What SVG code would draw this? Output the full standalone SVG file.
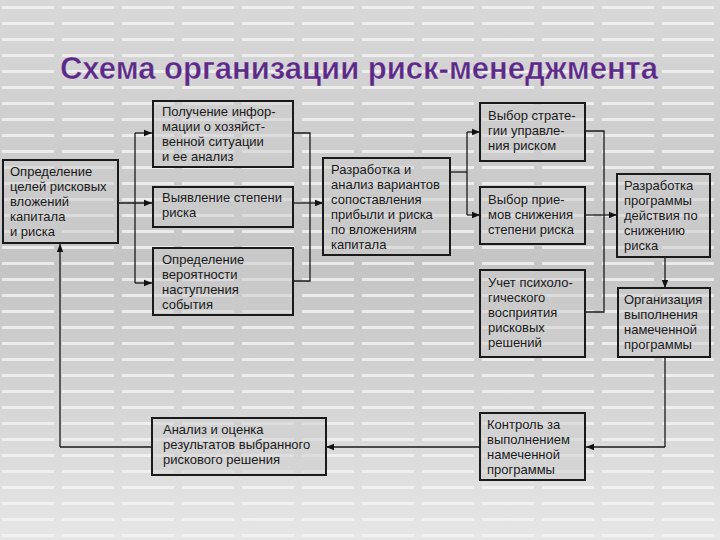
<svg xmlns="http://www.w3.org/2000/svg" width="720" height="540" viewBox="0 0 720 540">
<defs>
<linearGradient id="bg" x1="0" y1="0" x2="0" y2="1"><stop offset="0" stop-color="#d8d8d8"/><stop offset="0.5" stop-color="#c4c4c4"/><stop offset="1" stop-color="#e6e6e6"/></linearGradient>
<pattern id="stripes" width="60" height="16" patternUnits="userSpaceOnUse"><rect x="2" y="6" width="52" height="3" fill="#f4f4f4" opacity="0.8"/></pattern>
<marker id="ah" viewBox="0 0 10 10" refX="10" refY="5" markerWidth="8" markerHeight="8" markerUnits="userSpaceOnUse" orient="auto"><path d="M0,1 L10,5 L0,9 z" fill="#111"/></marker>
</defs>
<style>
.box{fill:#cbcbcb;fill-opacity:0.5;stroke:#1a1a1a;stroke-width:2}
.t{font-family:"Liberation Sans",Arial,sans-serif;font-size:13px;fill:#1a1a1a}
.c{fill:none;stroke:#1a1a1a;stroke-width:1.3}
.a{marker-end:url(#ah)}
</style>
<rect width="720" height="540" fill="url(#bg)"/>
<rect width="720" height="540" fill="url(#stripes)"/>
<text x="359" y="79" text-anchor="middle" font-family="Liberation Sans,Arial,sans-serif" font-size="31" font-weight="bold" fill="#5b2a86" stroke="#ffffff" stroke-opacity="0.5" stroke-width="0.6">Схема организации риск-менеджмента</text>
<g id="connectors">
<path class="c a" d="M118,203 H152"/>
<path class="c" d="M135,133 V283"/>
<path class="c a" d="M135,133 H152"/>
<path class="c a" d="M135,283 H152"/>
<path class="c" d="M293,133 H310 V281 H293"/>
<path class="c a" d="M293,203 H323"/>
<path class="c" d="M450,172 H467"/>
<path class="c" d="M467,132 V215"/>
<path class="c a" d="M467,132 H480"/>
<path class="c a" d="M467,215 H480"/>
<path class="c" d="M585,131 H604 V312 H585"/>
<path class="c a" d="M585,215 H617"/>
<path class="c a" d="M665,257 V288"/>
<path class="c" d="M665,357 V447"/>
<path class="c a" d="M665,447 H586"/>
<path class="c a" d="M480,447 H326"/>
<path class="c" d="M152,447 H60"/>
<path class="c a" d="M60,447 V244"/>
</g>
<g id="n1"><rect class="box" x="3" y="160" width="115" height="83"/><text class="t" x="10" y="176">Определение</text><text class="t" x="10" y="191">целей рисковых</text><text class="t" x="10" y="206">вложений</text><text class="t" x="10" y="221">капитала</text><text class="t" x="10" y="236">и риска</text></g>
<g id="n2"><rect class="box" x="153" y="101" width="140" height="66"/><text class="t" x="162" y="116">Получение инфор-</text><text class="t" x="162" y="131">мации о хозяйст-</text><text class="t" x="162" y="146">венной ситуации</text><text class="t" x="162" y="161">и ее анализ</text></g>
<g id="n3"><rect class="box" x="153" y="187" width="140" height="40"/><text class="t" x="162" y="202">Выявление степени</text><text class="t" x="162" y="217">риска</text></g>
<g id="n4"><rect class="box" x="153" y="248" width="140" height="67"/><text class="t" x="162" y="264">Определение</text><text class="t" x="162" y="279">вероятности</text><text class="t" x="162" y="294">наступления</text><text class="t" x="162" y="309">события</text></g>
<g id="n5"><rect class="box" x="323" y="158" width="127" height="97"/><text class="t" x="331" y="174">Разработка и</text><text class="t" x="331" y="189">анализ вариантов</text><text class="t" x="331" y="204">сопоставления</text><text class="t" x="331" y="219">прибыли и риска</text><text class="t" x="331" y="234">по вложениям</text><text class="t" x="331" y="249">капитала</text></g>
<g id="n6"><rect class="box" x="480" y="103" width="105" height="58"/><text class="t" x="488" y="120">Выбор страте-</text><text class="t" x="488" y="135">гии управле-</text><text class="t" x="488" y="150">ния риском</text></g>
<g id="n7"><rect class="box" x="480" y="187" width="105" height="57"/><text class="t" x="488" y="204">Выбор прие-</text><text class="t" x="488" y="219">мов снижения</text><text class="t" x="488" y="234">степени риска</text></g>
<g id="n8"><rect class="box" x="480" y="270" width="105" height="87"/><text class="t" x="488" y="287">Учет психоло-</text><text class="t" x="488" y="302">гического</text><text class="t" x="488" y="317">восприятия</text><text class="t" x="488" y="332">рисковых</text><text class="t" x="488" y="347">решений</text></g>
<g id="n9"><rect class="box" x="617" y="174" width="93" height="83"/><text class="t" x="624" y="190">Разработка</text><text class="t" x="624" y="205">программы</text><text class="t" x="624" y="220">действия по</text><text class="t" x="624" y="235">снижению</text><text class="t" x="624" y="250">риска</text></g>
<g id="n10"><rect class="box" x="618" y="288" width="92" height="69"/><text class="t" x="624" y="304">Организация</text><text class="t" x="624" y="319">выполнения</text><text class="t" x="624" y="334">намеченной</text><text class="t" x="624" y="349">программы</text></g>
<g id="n11"><rect class="box" x="480" y="413" width="105" height="67"/><text class="t" x="487" y="429">Контроль за</text><text class="t" x="487" y="444">выполнением</text><text class="t" x="487" y="459">намеченной</text><text class="t" x="487" y="474">программы</text></g>
<g id="n12"><rect class="box" x="152" y="418" width="174" height="57"/><text class="t" x="163" y="434">Анализ и оценка</text><text class="t" x="163" y="449">результатов выбранного</text><text class="t" x="163" y="464">рискового решения</text></g>
</svg>
